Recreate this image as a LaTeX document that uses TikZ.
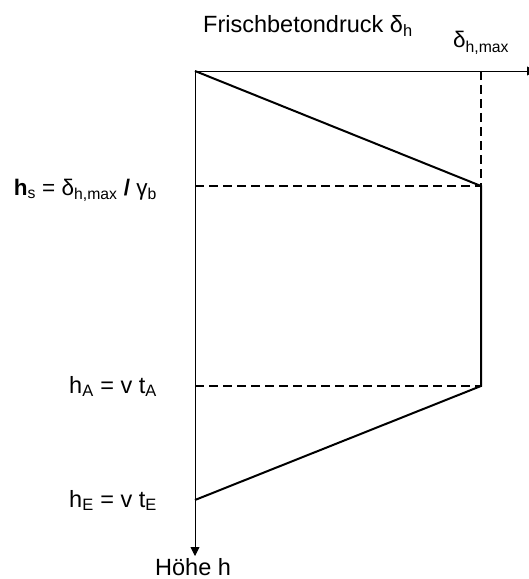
\documentclass[tikz,border=0pt]{standalone}
\usepackage{fontspec}
\setmainfont{Liberation Sans}
\usetikzlibrary{arrows.meta}
\begin{document}
\begin{tikzpicture}[x=1bp,y=-1bp,
  axis/.style={line width=0.9bp},
  curve/.style={line width=2bp},
  dashline/.style={line width=2bp, dash pattern=on 9bp off 5bp},
  lbl/.style={inner sep=0pt, font=\fontsize{23.5bp}{26bp}\selectfont},
  slbl/.style={inner sep=0pt, font=\fontsize{22.5bp}{25bp}\selectfont}]
\clip (0,0) rectangle (529,579);
\coordinate (O) at (195,71);
\coordinate (X) at (536,71);
\coordinate (Y) at (195,556);
\coordinate (M) at (481,71);
\coordinate (S) at (481,186);
\coordinate (A) at (481,386);
\coordinate (E) at (195,500);
\coordinate (S0) at (195,186);
\coordinate (A0) at (195,386);
\draw[axis,-{Triangle[length=9bp,width=9bp]}] (O) -- (X);
\draw[axis,-{Triangle[length=9bp,width=9bp]}] (O) -- (Y);
\draw[dashline] (M) -- (S);
\draw[dashline] (S0) -- (S);
\draw[dashline] (A0) -- (A);
\draw[curve,line join=miter] (O) -- (S) -- (A) -- (E);
\node[lbl,anchor=base west] (title) at (203,33) {Frischbetondruck δ\textsubscript{h}};
\node[slbl,anchor=base west] (dmax) at (453,48) {δ\textsubscript{h,max}};
\node[lbl,anchor=base west] (hoehe) at (155,575) {Höhe h};
\node[slbl,anchor=base east] (hs) at (157,195) {\textbf{h}\textsubscript{s} = δ\textsubscript{h,max} \textbf{/} γ\textsubscript{b}};
\node[lbl,anchor=base east] (hA) at (157,393) {h\textsubscript{A} = v t\textsubscript{A}};
\node[lbl,anchor=base east] (hE) at (157,507) {h\textsubscript{E} = v t\textsubscript{E}};
\end{tikzpicture}
\end{document}
